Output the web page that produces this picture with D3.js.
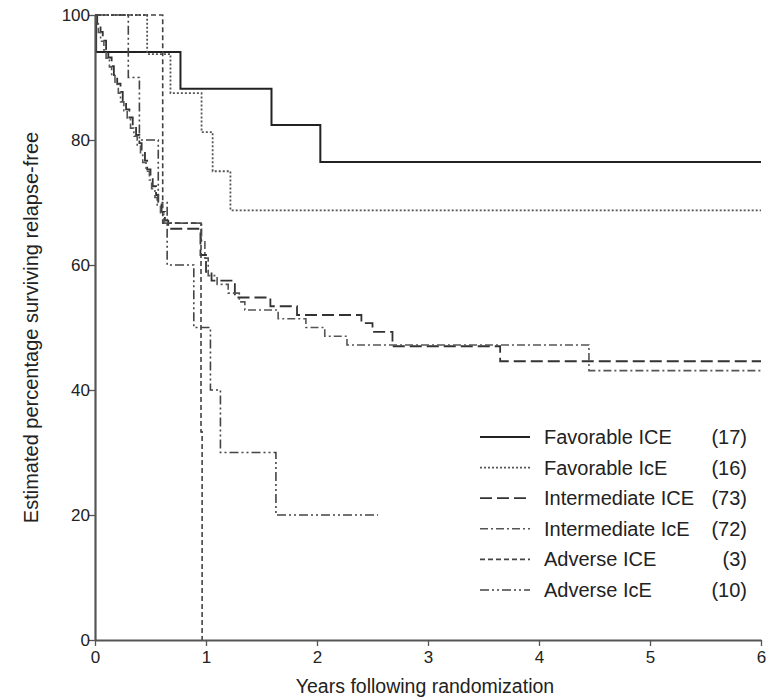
<!DOCTYPE html>
<html>
<head>
<meta charset="utf-8">
<script src="https://cdn.jsdelivr.net/npm/d3@7"></script>
<style>
  html, body { margin: 0; padding: 0; background: #fff; }
  svg text { font-family: "Liberation Sans", Arial, sans-serif; fill: #222; }
</style>
</head>
<body>
<svg id="chart" width="775" height="700"></svg>
<script>
// ---- Data ----
const categories = ["Favorable ICE", "Favorable IcE", "Intermediate ICE", "Intermediate IcE", "Adverse ICE", "Adverse IcE"];
const counts = [17, 16, 73, 72, 3, 10];

const xTicks = [0, 1, 2, 3, 4, 5, 6];
const yTicks = [0, 20, 40, 60, 80, 100];

// Kaplan-Meier step curves: times (years) and survival (%)
const favICE_t = [0, 0.01, 0.77, 1.59, 2.03, 6];
const favICE_s = [100, 94.1, 88.2, 82.4, 76.5, 76.5];

const favIcE_t = [0, 0.47, 0.68, 0.96, 1.06, 1.22, 6];
const favIcE_s = [100, 93.75, 87.5, 81.25, 75, 68.75, 68.75];

const intICE_t = [0, 0.02, 0.05, 0.07, 0.10, 0.12, 0.15, 0.17, 0.20, 0.23, 0.25, 0.28, 0.31, 0.34, 0.37, 0.40, 0.42, 0.45, 0.47, 0.50, 0.52, 0.55, 0.57, 0.60, 0.63, 0.66, 0.95, 1.00, 1.05, 1.26, 1.58, 1.82, 2.40, 2.50, 2.68, 3.65, 6];
const intICE_s = [100, 98.6, 97.3, 95.9, 94.5, 93.2, 91.8, 90.4, 89.0, 87.7, 86.3, 84.9, 83.6, 82.2, 80.8, 79.5, 78.1, 76.7, 75.3, 74.0, 72.6, 71.2, 69.9, 68.5, 67.1, 65.8, 61.6, 58.9, 57.5, 54.8, 53.4, 52.0, 50.7, 49.3, 47.0, 44.6, 44.6];

const intIcE_t = [0, 0.01, 0.03, 0.05, 0.08, 0.10, 0.13, 0.15, 0.18, 0.21, 0.23, 0.26, 0.29, 0.32, 0.35, 0.38, 0.41, 0.43, 0.46, 0.49, 0.51, 0.54, 0.56, 0.59, 0.62, 0.96, 0.99, 1.02, 1.10, 1.20, 1.30, 1.35, 1.65, 1.90, 2.07, 2.27, 4.45, 6];
const intIcE_s = [100, 98.6, 97.2, 95.8, 94.4, 93.1, 91.7, 90.3, 88.9, 87.5, 86.1, 84.7, 83.3, 81.9, 80.6, 79.2, 77.8, 76.4, 75.0, 73.6, 72.2, 70.8, 69.4, 68.1, 66.7, 63.9, 61.1, 58.3, 56.9, 55.5, 54.1, 52.8, 51.4, 50.0, 48.6, 47.2, 43.1, 43.1];

const advICE_t = [0, 0.61, 0.955, 0.965];
const advICE_s = [100, 66.7, 33.3, 0];

const advIcE_t = [0, 0.30, 0.40, 0.57, 0.65, 0.89, 1.04, 1.13, 1.63, 2.55];
const advIcE_s = [100, 90, 80, 70, 60, 50, 40, 30, 20, 20];

const seriesT = [favICE_t, favIcE_t, intICE_t, intIcE_t, advICE_t, advIcE_t];
const seriesS = [favICE_s, favIcE_s, intICE_s, intIcE_s, advICE_s, advIcE_s];

// ---- Styles ----
const dashes = ["none", "2,2", "12,5", "8,3,2,3", "5,3", "9,3,2,3,2,3"];
const strokes = ["#222", "#555", "#333", "#555", "#444", "#444"];
const widths = [2, 1.8, 1.8, 1.6, 1.6, 1.6];

// ---- Layout ----
const svg = d3.select("#chart");
const x = d3.scaleLinear().domain([0, 6]).range([95, 761]);
const y = d3.scaleLinear().domain([0, 100]).range([640, 15]);

const line = d3.line()
  .x(d => x(d[0]))
  .y(d => y(d[1]))
  .curve(d3.curveStepAfter);

const g = svg.append("g");
categories.forEach((c, i) => {
  const pts = seriesT[i].map((t, j) => [t, seriesS[i][j]]);
  g.append("path")
    .attr("d", line(pts))
    .attr("fill", "none")
    .attr("stroke", strokes[i])
    .attr("stroke-width", widths[i])
    .attr("stroke-dasharray", dashes[i]);
});

// ---- Axes ----
const xAxis = svg.append("g")
  .attr("transform", `translate(0,${y(0)})`)
  .call(d3.axisBottom(x).tickValues(xTicks).tickFormat(d3.format("d")).tickSize(6).tickSizeOuter(0));
const yAxis = svg.append("g")
  .attr("transform", `translate(${x(0)},0)`)
  .call(d3.axisLeft(y).tickValues(yTicks).tickFormat(d3.format("d")).tickSize(6).tickSizeOuter(0));

[xAxis, yAxis].forEach(a => {
  a.select(".domain").attr("stroke", "#555").attr("stroke-width", 2.2);
  a.selectAll(".tick line").attr("stroke", "#555").attr("stroke-width", 1.3);
  a.selectAll(".tick text").style("font-size", "17px").attr("fill", "#222")
    .style("font-family", '"Liberation Sans", Arial, sans-serif');
});
xAxis.selectAll(".tick text").attr("dy", "0.85em");
yAxis.selectAll(".tick text").attr("x", -5);

svg.append("text")
  .attr("x", 425).attr("y", 693)
  .attr("text-anchor", "middle")
  .style("font-size", "19.5px")
  .text("Years following randomization");

svg.append("text")
  .attr("transform", `translate(38,${(y(0) + y(100)) / 2}) rotate(-90)`)
  .attr("text-anchor", "middle")
  .style("font-size", "20px")
  .text("Estimated percentage surviving relapse-free");

// ---- Legend ----
const legend = svg.append("g");
const legY = d3.scalePoint().domain(categories).range([437, 590]);
categories.forEach((c, i) => {
  const yy = legY(c);
  legend.append("line")
    .attr("x1", 480).attr("x2", 530)
    .attr("y1", yy).attr("y2", yy)
    .attr("stroke", strokes[i])
    .attr("stroke-width", widths[i])
    .attr("stroke-dasharray", dashes[i]);
  legend.append("text")
    .attr("x", 544).attr("y", yy).attr("dy", "0.35em")
    .style("font-size", "20px")
    .text(c);
  legend.append("text")
    .attr("x", 747).attr("y", yy).attr("dy", "0.35em")
    .attr("text-anchor", "end")
    .style("font-size", "20px")
    .text(`(${counts[i]})`);
});
</script>
</body>
</html>
